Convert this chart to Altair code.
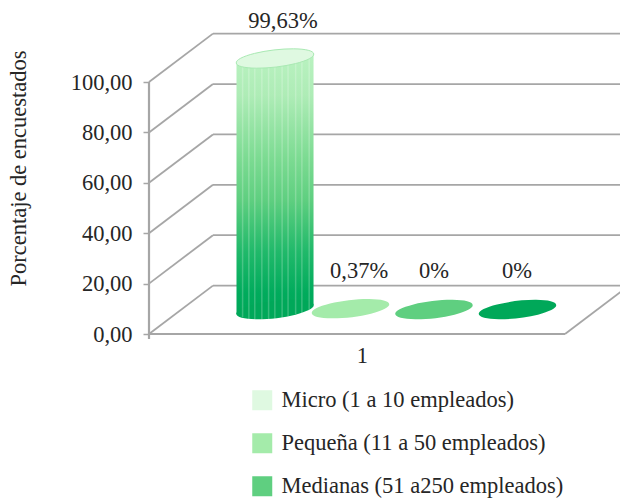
import altair as alt
import pandas as pd

series = ["Micro (1 a 10 empleados)", "Pequeña (11 a 50 empleados)",
          "Medianas (51 a250 empleados)", "Grandes (más de 250 empleados)"]
values = [99.63, 0.37, 0, 0]
labels = ["99,63%", "0,37%", "0%", "0%"]
colors = ["#dff9e1", "#a4ebaa", "#5fcf80", "#00a859"]
centers = [1.2115, 1.9375, 2.74, 3.543]
ticks = [0, 20, 40, 60, 80, 100]
stripe_x = [0.9, 0.96, 1.017, 1.085, 1.15, 1.21, 1.28, 1.337, 1.41, 1.47, 1.54]
stripe_low = [6.6, 5.9, 5.6, 5.6, 5.6, 5.9, 6.3, 7.0, 7.9, 8.3, 9.5]

depth_x = 0.615
depth_v = 19.2
floor_right = 4.0
base = 9.7
tilt = 1.8
bar_left, bar_right = 0.8413, 1.582
font = "Liberation Serif"
fs = 22.5
gray = "#a6a6a6"
ink = "#262626"

X = alt.Scale(domain=[-1.3558, 4.5288], nice=False, zero=False)
Y = alt.Scale(domain=[-65.08, 129.37], nice=False, zero=False)

segments = []
for t in ticks:
    segments.append(dict(x=0, y=t, x2=depth_x, y2=t + depth_v))
    segments.append(dict(x=depth_x, y=t + depth_v, x2=floor_right + depth_x, y2=t + depth_v))
segments.append(dict(x=floor_right, y=0, x2=floor_right + depth_x, y2=depth_v))
seg_df = pd.DataFrame(segments)

heavy_df = pd.DataFrame([
    dict(x=0, y=0, x2=floor_right, y2=0),
    dict(x=0, y=-2, x2=0, y2=100),
])

def rules(df, width):
    return alt.Chart(df).mark_rule(color=gray, strokeWidth=width).encode(
        x=alt.X("x:Q", scale=X, axis=None), y=alt.Y("y:Q", scale=Y, axis=None),
        x2="x2:Q", y2="y2:Q")

axes = alt.Chart(pd.DataFrame(dict(x=[0], y=[0]))).mark_point(opacity=0).encode(
    x=alt.X("x:Q", scale=X, title=None, axis=alt.Axis(
        orient="bottom", offset=-164, values=[2.048], labelExpr="'1'", domain=False,
        tickSize=0, labelPadding=10, labelFont=font, labelFontSize=fs, labelColor=ink,
        grid=False)),
    y=alt.Y("y:Q", scale=Y, title="Porcentaje de encuestados", axis=alt.Axis(
        orient="left", offset=-141, values=ticks, domain=False, grid=False,
        labelExpr="replace(format(datum.value,'.2f'),'.',',')",
        tickSize=6, tickColor=gray, tickWidth=1.5, labelPadding=11,
        labelFont=font, labelFontSize=fs, labelColor=ink,
        titleFont=font, titleFontSize=fs, titleColor=ink, titleFontWeight="normal",
        titleX=-119, titleY=160)),
)

top = base + values[0]
body_df = pd.DataFrame(dict(x=[bar_left, bar_right],
                            y=[base - tilt, base + tilt],
                            y2=[top - tilt, top + tilt]))
gradient = alt.LinearGradient(gradient="linear", x1=0, x2=0, y1=0, y2=1, stops=[
    alt.GradientStop(color="#b9f2c0", offset=0),
    alt.GradientStop(color="#aeecb6", offset=0.16),
    alt.GradientStop(color="#7cdb92", offset=0.4),
    alt.GradientStop(color="#5fcf80", offset=0.56),
    alt.GradientStop(color="#20b96a", offset=0.76),
    alt.GradientStop(color="#00ab5c", offset=0.92),
    alt.GradientStop(color="#00a859", offset=1),
])
body = alt.Chart(body_df).mark_area(color=gradient, opacity=1).encode(
    x=alt.X("x:Q", scale=X, axis=None),
    y=alt.Y("y:Q", scale=Y, axis=None), y2="y2:Q")

ellipse = ("M-0.993 0.117 A1 0.217 -6.7 1 1 0.993 -0.117 "
           "A1 0.217 -6.7 1 1 -0.993 0.117 Z")

base_df = pd.DataFrame(dict(x=[centers[0]], y=[base]))
base_mark = alt.Chart(base_df).mark_point(
    shape=ellipse, size=6084, filled=True, fill="#00a859", opacity=1, strokeWidth=0).encode(
    x=alt.X("x:Q", scale=X, axis=None), y=alt.Y("y:Q", scale=Y, axis=None))

stripe_df = pd.DataFrame(dict(x=stripe_x, y=stripe_low, y2=[top] * len(stripe_x)))
stripes = alt.Chart(stripe_df).mark_rule(color="white", opacity=0.22, strokeWidth=1.5).encode(
    x=alt.X("x:Q", scale=X, axis=None),
    y=alt.Y("y:Q", scale=Y, axis=None), y2="y2:Q")

ell_df = pd.DataFrame(dict(name=series, x=centers, y=[base + v for v in values]))
caps = alt.Chart(ell_df).mark_point(
    shape=ellipse, size=6084, filled=True, opacity=1, strokeWidth=0).encode(
    x=alt.X("x:Q", scale=X, axis=None), y=alt.Y("y:Q", scale=Y, axis=None),
    color=alt.Color("name:N", scale=alt.Scale(domain=series, range=colors), legend=alt.Legend(
        title=None, orient="none", legendX=243, legendY=381, values=series[:3],
        symbolType="square", symbolSize=400, symbolStrokeWidth=0, symbolOpacity=1,
        labelFont=font, labelFontSize=fs, labelColor=ink, labelOffset=8,
        rowPadding=20, labelLimit=400)))

cap_edge = alt.Chart(ell_df.head(1)).mark_point(
    shape=ellipse, size=6084, filled=False, opacity=1, stroke="#a9e9b3", strokeWidth=1).encode(
    x=alt.X("x:Q", scale=X, axis=None), y=alt.Y("y:Q", scale=Y, axis=None))

lab_df = pd.DataFrame(dict(label=labels, x=[1.2885, 2.02, 2.7404, 3.5385],
                           y=[121.4, 22.2, 22.2, 22.2]))
texts = alt.Chart(lab_df).mark_text(font=font, fontSize=fs, color=ink, baseline="alphabetic").encode(
    x=alt.X("x:Q", scale=X, axis=None), y=alt.Y("y:Q", scale=Y, axis=None), text="label:N")

chart = alt.layer(axes, rules(seg_df, 1.8), rules(heavy_df, 2.2), body, base_mark, stripes, caps, cap_edge, texts).resolve_axis(
    x="independent", y="independent"
).properties(
    width=612, height=490, padding=0, background="white",
    autosize=alt.AutoSizeParams(type="none"),
).configure_view(stroke=None)

chart.save("out.html", embed_options={"renderer": "svg", "actions": False})
